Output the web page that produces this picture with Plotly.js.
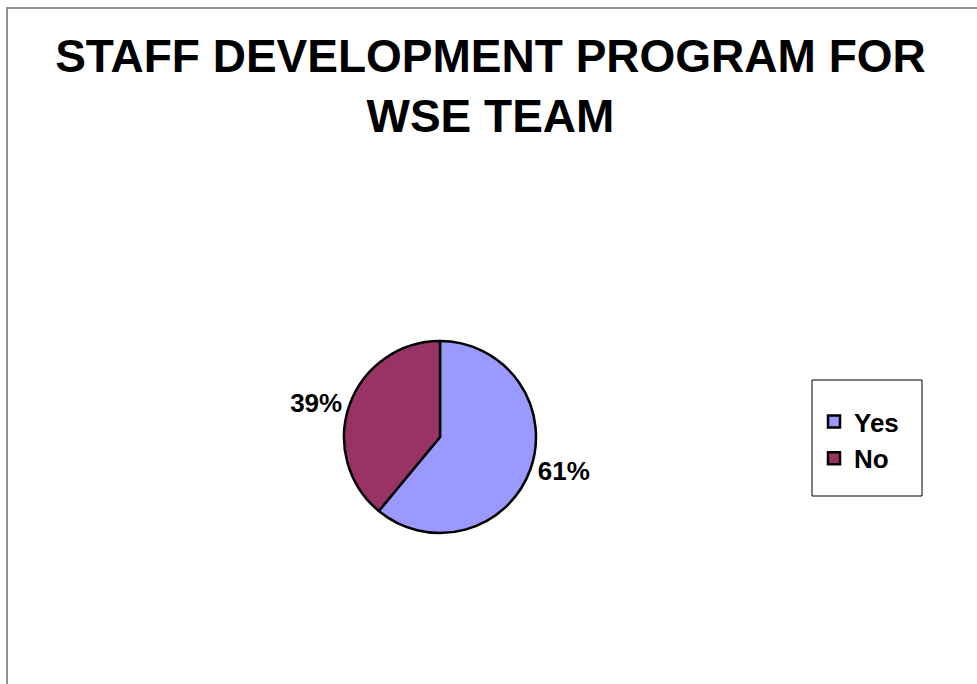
<!DOCTYPE html>
<html>
<head>
<meta charset="utf-8">
<script src="https://cdn.plot.ly/plotly-3.0.1.min.js"></script>
<style>html,body{margin:0;padding:0;background:#fff;}#chart{width:977px;height:684px;}</style>
</head>
<body>
<div id="chart"></div>
<script>
const labels = ["Yes", "No"];
const values = [61, 39];
const colors = ["#9999FF", "#993366"];
const titleText = "STAFF DEVELOPMENT PROGRAM FOR<br>WSE TEAM";

const W = 977, H = 684;
const cx = 440, cy = 437, r = 96;
const FONT = "Liberation Sans, Arial, sans-serif";

const trace = {
  type: "pie",
  labels: labels,
  values: values,
  sort: false,
  direction: "clockwise",
  rotation: 0,
  marker: { colors: colors, line: { color: "#000000", width: 2.5 } },
  textposition: "outside",
  texttemplate: "%{percent:.0%}",
  outsidetextfont: { family: FONT, size: 26, color: "#000000", weight: "bold" },
  hoverinfo: "label+percent",
  automargin: false,
  domain: {
    x: [(cx - r) / W, (cx + r) / W],
    y: [(H - cy - r) / H, (H - cy + r) / H]
  }
};

const layout = {
  width: W,
  height: H,
  margin: { l: 0, r: 0, t: 0, b: 0 },
  paper_bgcolor: "#ffffff",
  plot_bgcolor: "#ffffff",
  title: {
    text: titleText,
    font: { family: FONT, size: 46, color: "#000000", weight: "bold" },
    x: 0.502,
    xanchor: "center",
    y: 1 - 72 / H,
    yanchor: "top"
  },
  showlegend: true,
  legend: {
    x: 814 / W,
    xanchor: "left",
    y: (H - 440) / H,
    yanchor: "middle",
    bgcolor: "rgba(0,0,0,0)",
    borderwidth: 0,
    font: { family: FONT, size: 26, color: "#000000", weight: "bold" },
    itemwidth: 30,
    tracegroupgap: 0
  },
  shapes: [
    { type: "rect", xref: "paper", yref: "paper",
      x0: 7 / W, x1: 1.02, y0: -0.02, y1: 1 - 8 / H,
      line: { color: "#6f6f6f", width: 1.5 }, fillcolor: "rgba(0,0,0,0)" },
    { type: "rect", xref: "paper", yref: "paper",
      x0: 812 / W, x1: 922 / W, y0: (H - 496) / H, y1: (H - 380) / H,
      line: { color: "#000000", width: 1 }, fillcolor: "rgba(0,0,0,0)" }
  ]
};

Plotly.newPlot("chart", [trace], layout, { displayModeBar: false, staticPlot: true });
</script>
</body>
</html>
